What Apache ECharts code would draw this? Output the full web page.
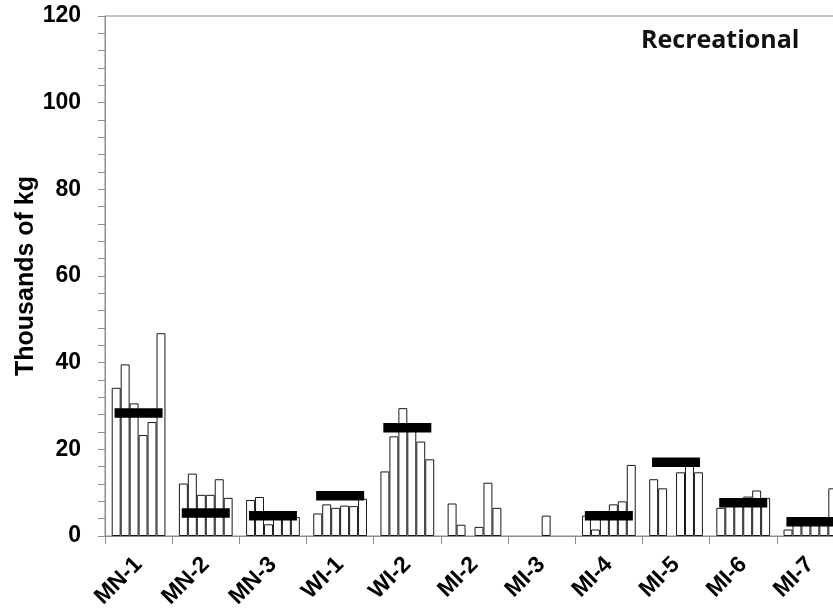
<!DOCTYPE html>
<html>
<head>
<meta charset="utf-8">
<script src="https://cdn.jsdelivr.net/npm/echarts@6/dist/echarts.min.js"></script>
<style>
html,body{margin:0;padding:0;background:#fff;}
#chart{width:833px;height:613px;}
</style>
</head>
<body>
<div id="chart"></div>
<script>
var categories = ['MN-1','MN-2','MN-3','WI-1','WI-2','MI-2','MI-3','MI-4','MI-5','MI-6','MI-7'];
// six yearly bars per site (null = no bar)
var year1 = [34.2, 12.1, 8.3, 5.2, 14.9, 7.5, null, 4.7, 13.1, 6.5, 1.5];
var year2 = [39.6, 14.4, 9.0, 7.3, 23.0, 2.6, null, 1.5, 11.0, 7.5, 3.0];
var year3 = [30.6, 9.5, 2.7, 6.5, 29.5, null, null, 4.5, null, 8.0, 3.0];
var year4 = [23.3, 9.5, 4.5, 7.0, 25.0, 2.1, 4.7, 7.3, 14.7, 9.1, 3.0];
var year5 = [26.3, 13.1, 4.5, 6.9, 21.8, 12.3, null, 8.0, 16.5, 10.5, 3.0];
var year6 = [46.8, 8.8, 4.4, 8.6, 17.7, 6.5, null, 16.4, 14.7, 8.8, 11.0];
var meanValues = [28.4, 5.3, 4.7, 9.3, 25.0, null, null, 4.7, 17.0, 7.7, 3.3];
var yTicks = [0, 20, 40, 60, 80, 100, 120];

var chart = echarts.init(document.getElementById('chart'), null, {renderer: 'canvas'});
var years = [year1, year2, year3, year4, year5, year6];
var series = years.map(function (arr, i) {
  return {
    name: 'Year ' + (i + 1),
    type: 'bar',
    data: arr,
    barGap: '0%',
    barCategoryGap: '20%',
    itemStyle: {color: '#ffffff', borderColor: '#1a1a1a', borderWidth: 1},
    z: 2
  };
});
series.push({
  name: 'Mean',
  type: 'scatter',
  data: meanValues,
  symbol: 'rect',
  symbolSize: [48, 9.5],
  itemStyle: {color: '#000000', opacity: 1},
  z: 5
});

chart.setOption({
  animation: false,
  backgroundColor: '#ffffff',
  grid: {left: 105, width: 739, top: 16, bottom: 77, show: true, borderColor: '#8c8c8c', borderWidth: 1,
    outerBoundsMode: 'none', containLabel: false},
  graphic: [{
    type: 'text',
    left: 641,
    top: 28,
    style: {text: 'Recreational', font: 'bold 25px "Open Sans"', fill: '#111'}
  }],
  xAxis: {
    type: 'category',
    data: categories,
    axisLine: {lineStyle: {color: '#8c8c8c', width: 1}},
    axisTick: {show: true, length: 8, lineStyle: {color: '#8c8c8c'}, alignWithLabel: false},
    axisLabel: {rotate: 45, margin: 25, fontFamily: 'Liberation Sans', fontWeight: 'bold', fontSize: 23, color: '#000', interval: 0}
  },
  yAxis: {
    type: 'value',
    min: 0, max: 120, interval: 20,
    name: 'Thousands of kg',
    nameLocation: 'middle',
    nameGap: 66,
    nameRotate: 90,
    nameMoveOverlap: false,
    nameTextStyle: {fontFamily: 'Liberation Sans', fontWeight: 'bold', fontSize: 25, color: '#000'},
    axisLine: {show: true, lineStyle: {color: '#8c8c8c', width: 1}},
    axisTick: {show: true, length: 7, lineStyle: {color: '#8c8c8c'}},
    minorTick: {show: true, splitNumber: 5, length: 7, lineStyle: {color: '#8c8c8c'}},
    splitLine: {show: false},
    axisLabel: {margin: 24, fontFamily: 'Liberation Sans', fontWeight: 'bold', fontSize: 23, color: '#000',
      formatter: function (v) { return yTicks.indexOf(v) >= 0 ? String(v) : ''; }}
  },
  series: series
});
</script>
</body>
</html>
